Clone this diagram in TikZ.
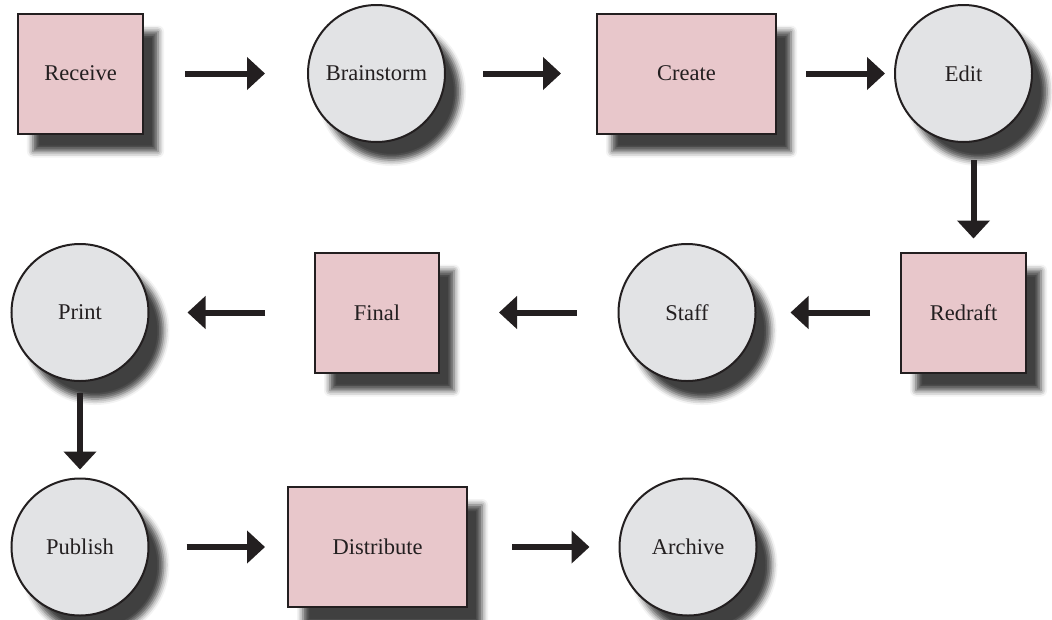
\documentclass[tikz,border=0pt]{standalone}
\usepackage{fontspec}
\setmainfont{Liberation Serif}
\usetikzlibrary{shadows.blur,arrows.meta,calc}
\definecolor{boxfill}{HTML}{E8C7CB}
\definecolor{circfill}{HTML}{E2E3E5}
\definecolor{ink}{HTML}{231F20}
\begin{document}
\begin{tikzpicture}[x=1pt,y=-1pt,
  base/.style={draw=ink, line width=2pt, inner sep=0pt, outer sep=0pt, text=ink,
    font=\fontsize{22.5}{27}\selectfont,
    blur shadow={shadow xshift=15pt, shadow yshift=-18pt, shadow blur radius=6pt, shadow opacity=75}},
  boxnode/.style={base, rectangle, fill=boxfill, minimum width=#1, minimum height=120pt},
  circnode/.style={base, circle, fill=circfill, minimum size=137pt},
  arr/.style={draw=ink, line width=6pt, -{Triangle[length=18pt,width=32pt]}}]
\useasboundingbox (0,0) rectangle (1052,619);
% row 1
\node[boxnode=125pt]  (rec) at (80.5,73.5)  {Receive};
\node[circnode]       (bra) at (376.5,73.5) {Brainstorm};
\node[boxnode=179pt]  (cre) at (686.5,73.5) {Create};
\node[circnode]       (edi) at (963.5,73.5) {Edit};
% row 2
\node[boxnode=125pt]  (red) at (963.5,312.5) {Redraft};
\node[circnode]       (sta) at (687,312.5)   {Staff};
\node[boxnode=124pt]  (fin) at (377,312.5)   {Final};
\node[circnode]       (pri) at (80,312.5)    {Print};
% row 3
\node[circnode]       (pub) at (80,547)      {Publish};
\node[boxnode=179pt]  (dis) at (377.5,547)   {Distribute};
\node[circnode]       (arc) at (688,547)     {Archive};
% connectors
\draw[arr] ($(rec.east)+(42,0)$) -- ($(bra.west)+(-43,0)$);
\draw[arr] ($(bra.east)+(38,0)$) -- ($(cre.west)+(-36,0)$);
\draw[arr] ($(cre.east)+(30,0)$) -- ($(edi.west)+(-10,0)$);
\draw[arr] ($(edi.south)+(10,18)$) -- ($(red.north)+(10,-14)$);
\draw[arr] ($(red.west)+(-31,0)$) -- ($(sta.east)+(35,0)$);
\draw[arr] ($(sta.west)+(-42,0)$) -- ($(fin.east)+(60,0)$);
\draw[arr] ($(fin.west)+(-50,0)$) -- ($(pri.east)+(39,0)$);
\draw[arr] ($(pri.south)+(0,12)$) -- ($(pub.north)+(0,-9)$);
\draw[arr] ($(pub.east)+(38,0)$) -- ($(dis.west)+(-23,0)$);
\draw[arr] ($(dis.east)+(45,0)$) -- ($(arc.west)+(-30,0)$);
\end{tikzpicture}
\end{document}
